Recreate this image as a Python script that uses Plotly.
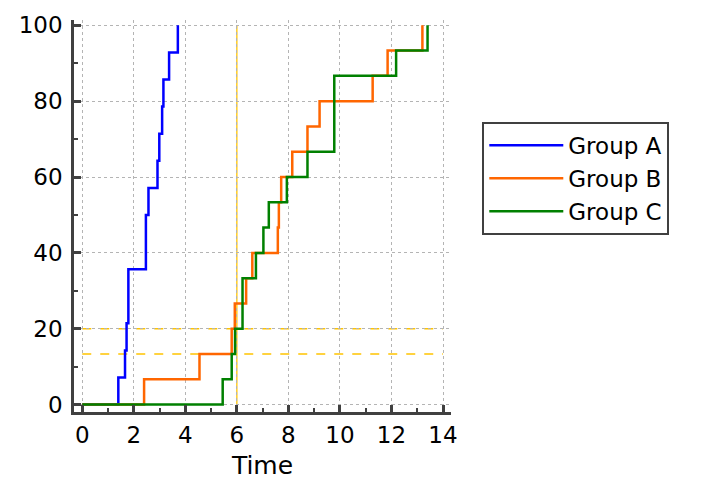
import plotly.graph_objects as go

# ---- data ----
group_names = ["Group A", "Group B", "Group C"]
group_colors = ["#0000FF", "#FF6600", "#008000"]

a_time = [0, 1.40, 1.66, 1.72, 1.79, 2.47, 2.57, 2.92, 2.99, 3.10, 3.15, 3.37, 3.71]
a_pct = [0, 7.14, 14.29, 21.43, 35.71, 50.0, 57.14, 64.29, 71.43, 78.57, 85.71, 92.86, 100]

b_time = [0, 2.40, 4.55, 5.80, 5.92, 6.36, 6.60, 7.59, 7.63, 7.72, 8.15, 8.74, 9.21, 11.27, 11.85, 13.20]
b_pct = [0, 6.67, 13.33, 20, 26.67, 33.33, 40, 46.67, 53.33, 60, 66.67, 73.33, 80, 86.67, 93.33, 100]

c_time = [0, 5.45, 5.80, 5.93, 6.22, 6.74, 7.03, 7.24, 7.94, 8.74, 9.78, 12.18, 13.40]
c_pct = [0, 6.67, 13.33, 20, 33.33, 40, 46.67, 53.33, 60, 66.67, 86.67, 93.33, 100]

ref_h_levels = [20, 13.33]
ref_h_span = [0, 14]
ref_v_time = 6
ref_v_span = [0, 100]

x_ticks = [0, 2, 4, 6, 8, 10, 12, 14]
y_ticks = [0, 20, 40, 60, 80, 100]

FONT = "DejaVu Sans"
AXC = "#404040"
GOLD = "#FFC400"

fig = go.Figure()

for name, col, t, p in zip(group_names, group_colors, [a_time, b_time, c_time], [a_pct, b_pct, c_pct]):
    fig.add_trace(go.Scatter(x=t, y=p, mode="lines", name=name,
                             line=dict(color=col, width=2.5, shape="hv")))

for lv in ref_h_levels:
    fig.add_shape(type="line", xref="x", yref="y", x0=ref_h_span[0], x1=ref_h_span[1],
                  y0=lv, y1=lv, line=dict(color=GOLD, width=1.5, dash="dash"), layer="below")
fig.add_shape(type="line", xref="x", yref="y", x0=ref_v_time, x1=ref_v_time,
              y0=ref_v_span[0], y1=ref_v_span[1], line=dict(color=GOLD, width=1.3), layer="below")

axis_common = dict(
    automargin=False,
    showline=True, linecolor=AXC, linewidth=2.5,
    ticks="inside", ticklen=7, tickwidth=2.5, tickcolor=AXC,
    showgrid=True, gridcolor="#b4b4b4", gridwidth=1, griddash="dot",
    zeroline=False,
    tickfont=dict(family=FONT, size=23, color="black"),
)

fig.update_xaxes(range=[-0.32, 14.31], tickvals=x_ticks, ticklabelstandoff=1,
                 minor=dict(dtick=1, tick0=0, ticks="inside", ticklen=4, tickwidth=1.5,
                            tickcolor=AXC, showgrid=False),
                 title=dict(text="Time", font=dict(family=FONT, size=25, color="black"), standoff=12),
                 **axis_common)
fig.update_yaxes(range=[-1.95, 101.4], tickvals=y_ticks, ticklabelstandoff=4,
                 minor=dict(dtick=10, tick0=0, ticks="inside", ticklen=4, tickwidth=1.5,
                            tickcolor=AXC, showgrid=False),
                 **axis_common)

fig.update_layout(
    width=701, height=480,
    margin=dict(l=74, r=250, t=20, b=68, autoexpand=False),
    paper_bgcolor="white", plot_bgcolor="white",
    font=dict(family=FONT, color="black"),
    legend=dict(x=1.083, y=0.74, xanchor="left", yanchor="top",
                bordercolor=AXC, borderwidth=2, bgcolor="white",
                font=dict(family=FONT, size=23, color="black"),
                itemwidth=74, tracegroupgap=0),
)

fig.write_html("out.html", config={"displayModeBar": False},
               post_script="document.body.style.margin='0';")
